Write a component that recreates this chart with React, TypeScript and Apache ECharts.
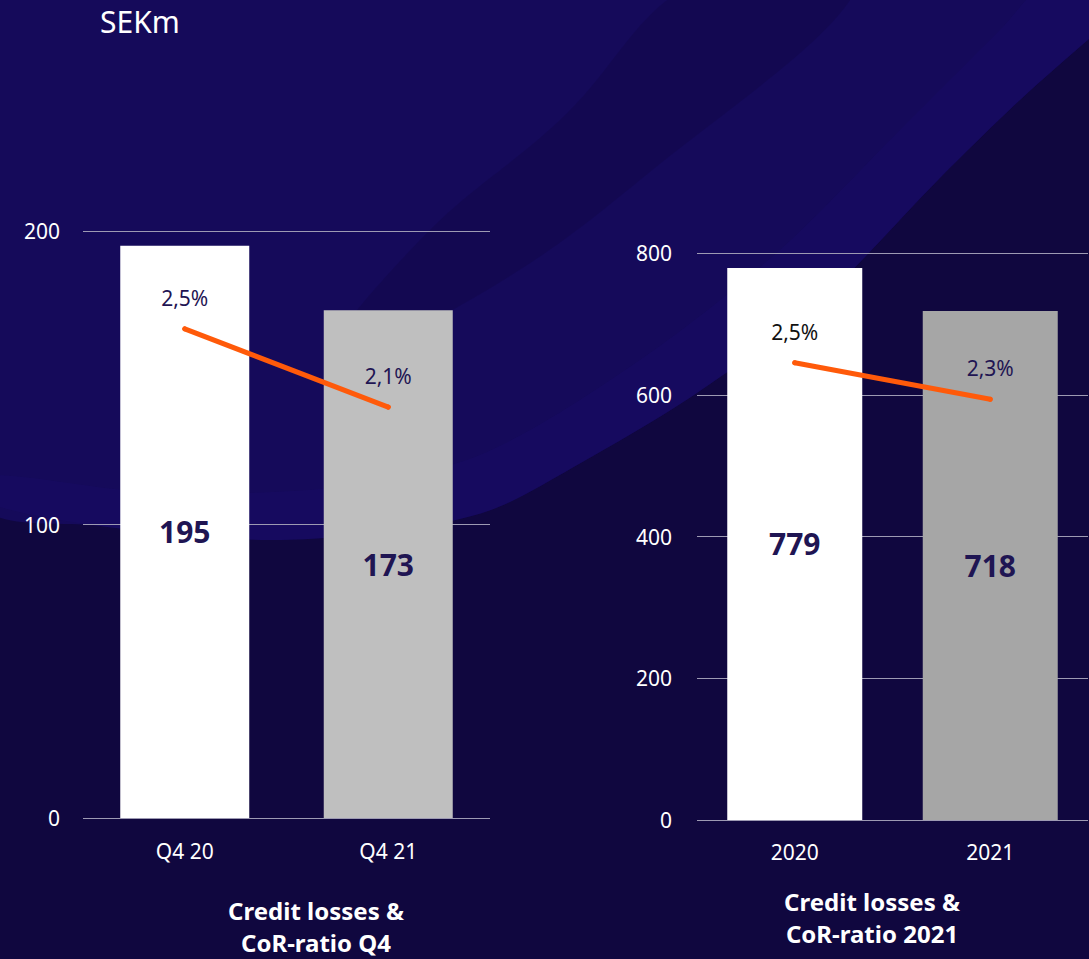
import React, { useEffect, useRef } from "react";
import * as echarts from "echarts";

const quarterCategories = ["Q4 20", "Q4 21"];
const quarterLosses = [195, 173];
const quarterCorRatio = [2.5, 2.1];

const yearCategories = ["2020", "2021"];
const yearLosses = [779, 718];
const yearCorRatio = [2.5, 2.3];

const unitLabel = "SEKm";
const quarterTitle = "Credit losses &\nCoR-ratio Q4";
const yearTitle = "Credit losses &\nCoR-ratio 2021";

const FONT = "'Noto Sans', 'DejaVu Sans', sans-serif";
const NAVY = "#1f1553";
const GRID_LINE = "#9d9ab3";

const fmtPct = (v: number) => v.toFixed(1).replace(".", ",") + "%";

export default function App() {
  const ref = useRef<HTMLDivElement>(null);

  useEffect(() => {
    if (!ref.current) return;
    const chart = echarts.init(ref.current, undefined, { renderer: "svg" });

    const yLabel = { color: "#ffffff", fontSize: 21, fontFamily: FONT };
    const xLabel = { color: "#ffffff", fontSize: 21, fontFamily: FONT };

    const titleStyle = {
      fill: "#ffffff",
      fontSize: 24,
      fontWeight: "bold",
      fontFamily: FONT,
      align: "center",
      verticalAlign: "top",
      lineHeight: 32,
    };

    const option: any = {
      animation: false,
      backgroundColor: "#10073f",
      textStyle: { fontFamily: FONT },
      graphic: [
        {
          type: "polygon",
          z: -10,
          silent: true,
          shape: {
            smooth: 0.3,
            points: [
              [-20, -20], [1110, -20], [1110, 22], [1089, 39], [1020, 100], [939, 179], [817, 304],
              [694, 395], [572, 468], [491, 510], [400, 530], [268, 540], [100, 526], [-20, 500],
            ],
          },
          style: { fill: "#150a5a" },
        },
        {
          type: "polygon",
          z: -9,
          silent: true,
          shape: {
            smooth: 0.3,
            points: [
              [1110, 22], [1089, 39], [1020, 100], [939, 179], [817, 304],
              [694, 395], [572, 468], [491, 510], [400, 530], [268, 540], [100, 526], [-20, 500],
              [-20, 475], [150, 492], [330, 488], [480, 455], [640, 360], [780, 250], [900, 130], [1000, 30], [1050, -20], [1110, -20],
            ],
          },
          style: { fill: "#190d6c", opacity: 0.3 },
        },
        {
          type: "polygon",
          z: -8,
          silent: true,
          shape: {
            smooth: 0.4,
            points: [[700, -20], [860, -20], [640, 180], [470, 300], [330, 360], [420, 240], [560, 120]],
          },
          style: { fill: "#10073f", opacity: 0.3 },
        },
        {
          type: "text",
          left: 100,
          top: 6,
          style: { text: unitLabel, fill: "#ffffff", fontSize: 30, fontFamily: FONT },
        },
        {
          type: "text",
          x: 316,
          y: 894,
          style: { text: quarterTitle, ...titleStyle },
        },
        {
          type: "text",
          x: 872,
          y: 885,
          style: { text: yearTitle, ...titleStyle },
        },
      ],
      grid: [
        { left: 83, right: 599, top: 231, bottom: 141 },
        { left: 697, right: 1, top: 253, bottom: 139 },
      ],
      xAxis: [
        {
          type: "category",
          gridIndex: 0,
          data: quarterCategories,
          axisLine: { show: false },
          axisTick: { show: false },
          axisLabel: { ...xLabel, margin: 22 },
        },
        {
          type: "category",
          gridIndex: 1,
          data: yearCategories,
          axisLine: { show: false },
          axisTick: { show: false },
          axisLabel: { ...xLabel, margin: 21 },
        },
      ],
      yAxis: [
        {
          type: "value",
          gridIndex: 0,
          min: 0,
          max: 200,
          interval: 100,
          axisLine: { show: false },
          axisTick: { show: false },
          axisLabel: { ...yLabel, margin: 23 },
          splitLine: { lineStyle: { color: GRID_LINE, width: 1 } },
        },
        {
          type: "value",
          gridIndex: 0,
          min: 0,
          max: 3,
          show: false,
          splitLine: { show: false },
        },
        {
          type: "value",
          gridIndex: 1,
          min: 0,
          max: 800,
          interval: 200,
          axisLine: { show: false },
          axisTick: { show: false },
          axisLabel: { ...yLabel, margin: 25 },
          splitLine: { lineStyle: { color: GRID_LINE, width: 1 } },
        },
        {
          type: "value",
          gridIndex: 1,
          min: 0,
          max: 3.1,
          show: false,
          splitLine: { show: false },
        },
      ],
      series: [
        {
          type: "bar",
          xAxisIndex: 0,
          yAxisIndex: 0,
          barWidth: 129,
          data: quarterLosses.map((v, i) => ({
            value: v,
            itemStyle: { color: i === 0 ? "#ffffff" : "#bfbfbf" },
          })),
          label: {
            show: true,
            position: "inside",
            color: NAVY,
            fontSize: 30,
            fontWeight: "bold",
            fontFamily: FONT,
          },
        },
        {
          type: "line",
          xAxisIndex: 0,
          yAxisIndex: 1,
          data: quarterCorRatio,
          symbol: "circle",
          symbolSize: 5,
          itemStyle: { color: "#ff5a0a" },
          lineStyle: { color: "#ff5a0a", width: 5, cap: "round" },
          label: {
            show: true,
            position: "top",
            distance: 18,
            color: NAVY,
            fontSize: 21,
            fontFamily: FONT,
            formatter: (p: any) => fmtPct(p.value),
          },
        },
        {
          type: "bar",
          xAxisIndex: 1,
          yAxisIndex: 2,
          barWidth: 135,
          data: yearLosses.map((v, i) => ({
            value: v,
            itemStyle: { color: i === 0 ? "#ffffff" : "#a6a6a6" },
          })),
          label: {
            show: true,
            position: "inside",
            color: NAVY,
            fontSize: 30,
            fontWeight: "bold",
            fontFamily: FONT,
          },
        },
        {
          type: "line",
          xAxisIndex: 1,
          yAxisIndex: 3,
          data: yearCorRatio.map((v, i) => ({
            value: v,
            label: { color: i === 0 ? "#111111" : NAVY },
          })),
          symbol: "circle",
          symbolSize: 5,
          itemStyle: { color: "#ff5a0a" },
          lineStyle: { color: "#ff5a0a", width: 5, cap: "round" },
          label: {
            show: true,
            position: "top",
            distance: 18,
            fontSize: 21,
            fontFamily: FONT,
            formatter: (p: any) => fmtPct(p.value),
          },
        },
      ],
    };

    chart.setOption(option);
    return () => chart.dispose();
  }, []);

  return (
    <div
      ref={ref}
      style={{ position: "fixed", left: 0, top: 0, width: 1089, height: 959 }}
    />
  );
}
